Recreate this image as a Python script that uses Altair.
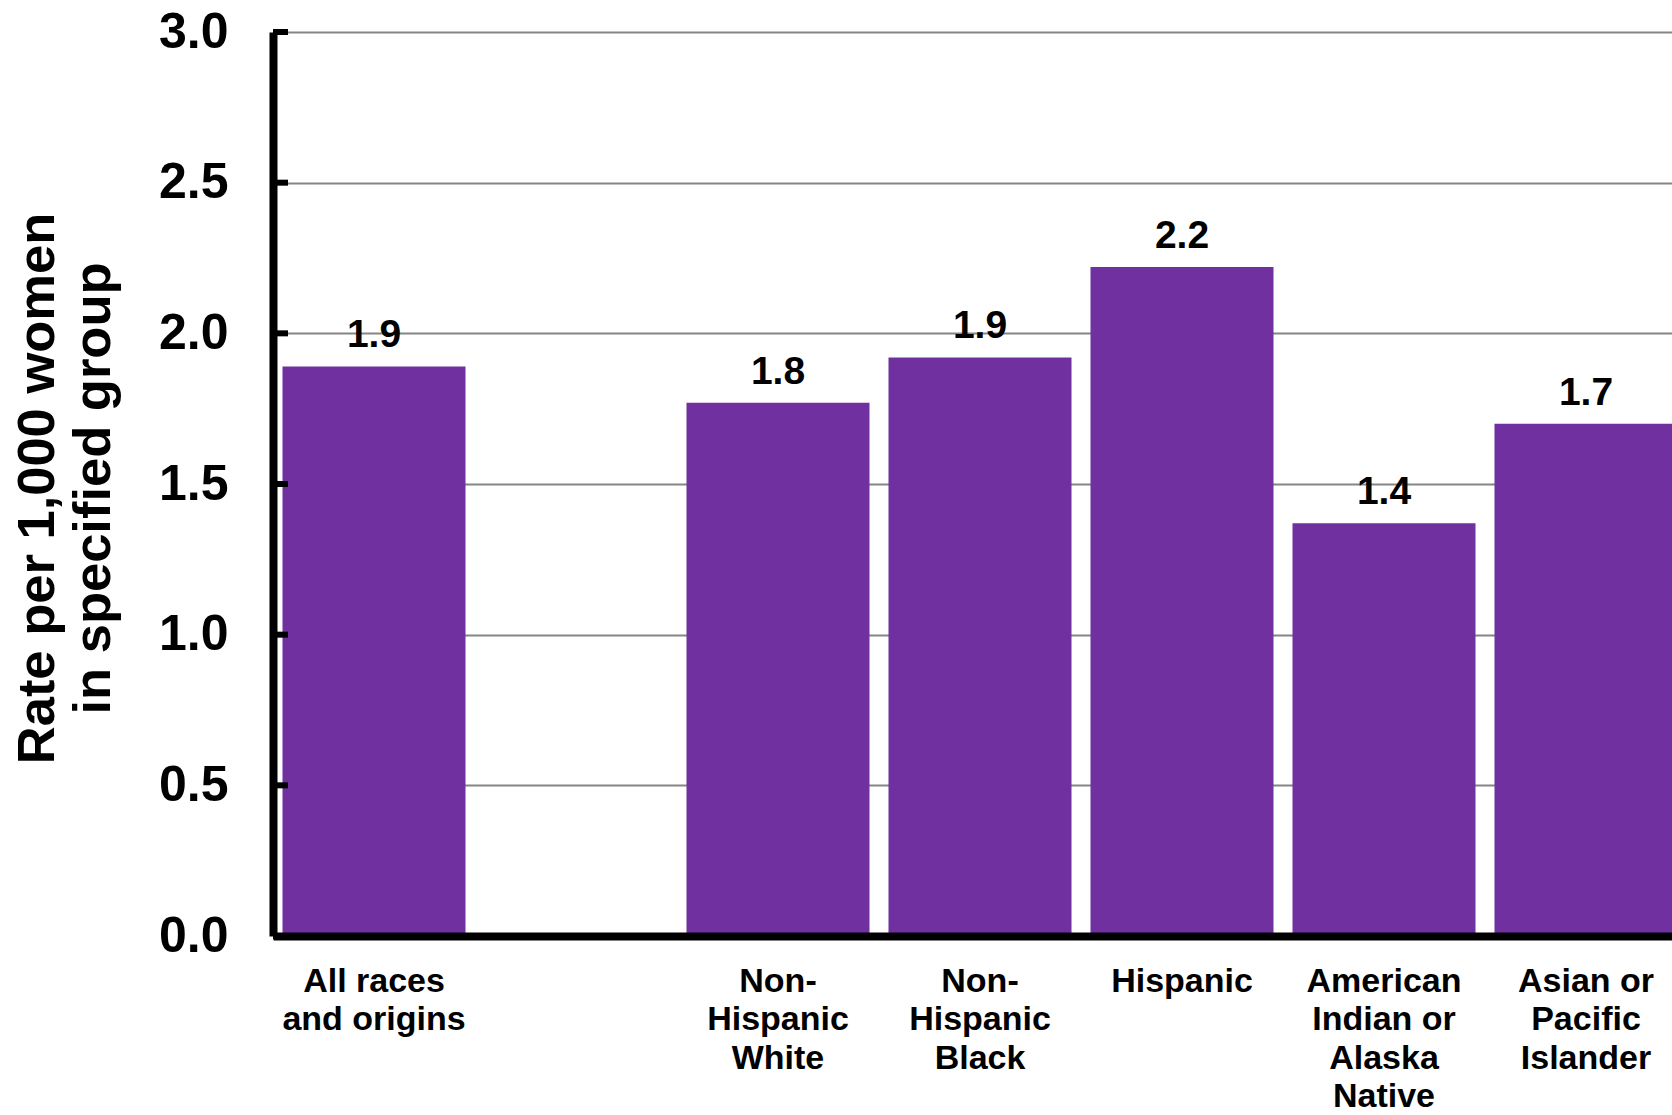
import altair as alt
import pandas as pd

# Category slots along the x axis ("|" marks a line break in the label);
# the blank slot leaves a gap after the overall group.
slots = [
    "All races|and origins",
    " ",
    "Non-|Hispanic|White",
    "Non-|Hispanic|Black",
    "Hispanic",
    "American|Indian or|Alaska|Native",
    "Asian or|Pacific|Islander",
]
groups = [
    "All races|and origins",
    "Non-|Hispanic|White",
    "Non-|Hispanic|Black",
    "Hispanic",
    "American|Indian or|Alaska|Native",
    "Asian or|Pacific|Islander",
]
rates = [1.89, 1.77, 1.92, 2.22, 1.37, 1.70]
y_ticks = [0.0, 0.5, 1.0, 1.5, 2.0, 2.5, 3.0]

FONT = "Liberation Sans"
PURPLE = "#7030A0"

bars_df = pd.DataFrame({"group": groups, "rate": rates})
ticks_df = pd.DataFrame({"rate": y_ticks})

x_scale = alt.Scale(domain=slots, range=[0, 1414], paddingInner=0.094, paddingOuter=0.047)
y_scale = alt.Scale(domain=[0, 3], nice=False, zero=True)

x_axis = alt.Axis(
    title=None,
    labelExpr="split(datum.value, '|')",
    labelFont=FONT,
    labelFontSize=34,
    labelFontWeight="bold",
    labelColor="black",
    labelLineHeight=38.5,
    labelBaseline="top",
    labelAngle=0,
    labelPadding=28,
    labelLimit=500,
    labelOverlap=False,
    ticks=False,
    tickSize=0,
    domainColor="black",
    domainWidth=8,
    zindex=1,
)

y_axis = alt.Axis(
    title=["Rate per 1,000 women", "in specified group"],
    titleFont=FONT,
    titleFontSize=52.5,
    titleFontWeight="bold",
    titleColor="black",
    titleLineHeight=56,
    titleAngle=-90,
    titleAlign="center",
    titleBaseline="top",
    titleX=-261,
    titleY=456,
    values=y_ticks,
    format=".1f",
    labelFont=FONT,
    labelFontSize=50,
    labelFontWeight="bold",
    labelColor="black",
    labelPadding=45,
    ticks=False,
    tickSize=0,
    domainColor="black",
    domainWidth=8,
    grid=True,
    gridColor="#858585",
    gridWidth=2,
    zindex=0,
)

bars = alt.Chart(bars_df).mark_bar(color=PURPLE, clip=True).encode(
    x=alt.X("group:N", scale=x_scale, axis=x_axis),
    y=alt.Y("rate:Q", scale=y_scale, axis=y_axis),
)

values = alt.Chart(bars_df).mark_text(
    font=FONT, fontSize=39, fontWeight="bold", color="black", baseline="alphabetic", dy=-19
).encode(
    x=alt.X("group:N", scale=x_scale, axis=x_axis),
    y=alt.Y("rate:Q", scale=y_scale, axis=y_axis),
    text=alt.Text("rate:Q", format=".1f"),
)

# Inward-pointing tick marks on the value axis
tick_marks = alt.Chart(ticks_df).mark_rule(color="black", strokeWidth=6).encode(
    y=alt.Y("rate:Q", scale=y_scale, axis=y_axis),
    x=alt.value(0),
    x2=alt.value(15),
)

chart = (
    alt.layer(bars, values, tick_marks)
    .properties(
        width=1399,
        height=904,
        autosize=alt.AutoSizeParams(type="none"),
        padding={"left": 273, "top": 32, "right": 0, "bottom": 179},
        background="white",
    )
    .configure_view(stroke=None)
)

chart.save("out.html", embed_options={"renderer": "svg", "actions": False})
